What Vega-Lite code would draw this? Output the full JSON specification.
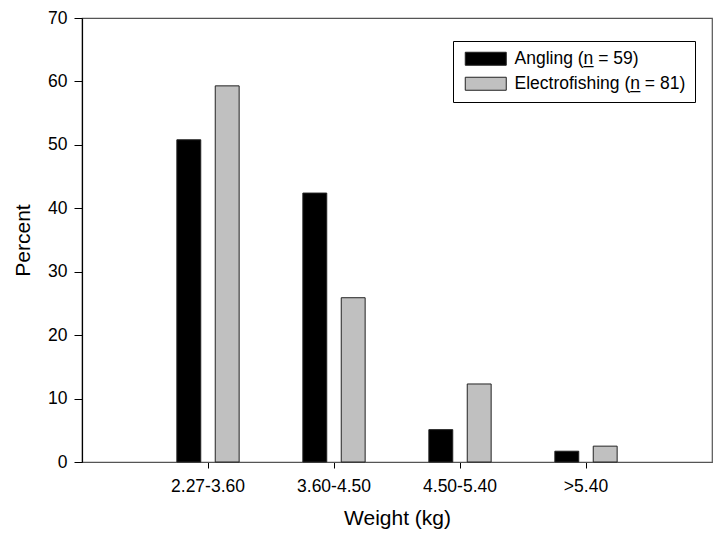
{
  "$schema": "https://vega.github.io/schema/vega-lite/v6.json",
  "width": 630,
  "height": 444,
  "autosize": {"type": "none"},
  "padding": {"left": 82, "top": 18, "right": 6, "bottom": 71},
  "background": "white",
  "config": {
    "font": "Liberation Sans",
    "view": {"stroke": "#555555", "strokeWidth": 1.2},
    "axis": {"grid": false, "labelColor": "black", "titleColor": "black", "labelFont": "Liberation Sans", "titleFont": "Liberation Sans", "titleFontWeight": "normal"}
  },
  "data": {
    "values": [
      {"category": "2.27-3.60", "method": "Angling (n̲ = 59)", "percent": 50.8},
      {"category": "2.27-3.60", "method": "Electrofishing (n̲ = 81)", "percent": 59.3},
      {"category": "3.60-4.50", "method": "Angling (n̲ = 59)", "percent": 42.4},
      {"category": "3.60-4.50", "method": "Electrofishing (n̲ = 81)", "percent": 25.9},
      {"category": "4.50-5.40", "method": "Angling (n̲ = 59)", "percent": 5.1},
      {"category": "4.50-5.40", "method": "Electrofishing (n̲ = 81)", "percent": 12.3},
      {"category": ">5.40", "method": "Angling (n̲ = 59)", "percent": 1.7},
      {"category": ">5.40", "method": "Electrofishing (n̲ = 81)", "percent": 2.5}
    ]
  },
  "mark": {"type": "bar", "stroke": "#222222", "strokeWidth": 1},
  "encoding": {
    "x": {
      "field": "category",
      "type": "nominal",
      "sort": ["2.27-3.60", "3.60-4.50", "4.50-5.40", ">5.40"],
      "scale": {"paddingInner": 0, "paddingOuter": 0.5},
      "axis": {
        "title": "Weight (kg)",
        "titleFontSize": 21,
        "titlePadding": 13,
        "labelAngle": 0,
        "labelFontSize": 17.5,
        "labelPadding": 9,
        "tickSize": 6,
        "tickColor": "black",
        "domainColor": "#555555",
        "domainWidth": 1.2
      }
    },
    "xOffset": {
      "field": "method",
      "type": "nominal",
      "scale": {"paddingInner": 0.377, "paddingOuter": 0.83}
    },
    "y": {
      "field": "percent",
      "type": "quantitative",
      "scale": {"domain": [0, 70], "nice": false},
      "axis": {
        "title": "Percent",
        "titleFontSize": 21,
        "titlePadding": 14,
        "values": [0, 10, 20, 30, 40, 50, 60, 70],
        "labelFontSize": 17.5,
        "labelPadding": 7,
        "tickSize": 8,
        "tickColor": "black",
        "domainColor": "black",
        "domainWidth": 1.2
      }
    },
    "fill": {
      "field": "method",
      "type": "nominal",
      "scale": {"range": ["#000000", "#c0c0c0"]},
      "legend": {
        "title": null,
        "orient": "none",
        "legendX": 371,
        "legendY": 23,
        "strokeColor": "black",
        "fillColor": "white",
        "padding": 9,
        "symbolType": "M-4.1,-1.3H4.1V1.3H-4.1Z",
        "symbolSize": 100,
        "symbolOffset": 15,
        "symbolStrokeColor": "#222222",
        "symbolStrokeWidth": 1,
        "symbolOpacity": 1,
        "labelFontSize": 17.5,
        "labelColor": "black",
        "labelOffset": 20,
        "rowPadding": 6,
        "labelLimit": 300
      }
    }
  }
}
